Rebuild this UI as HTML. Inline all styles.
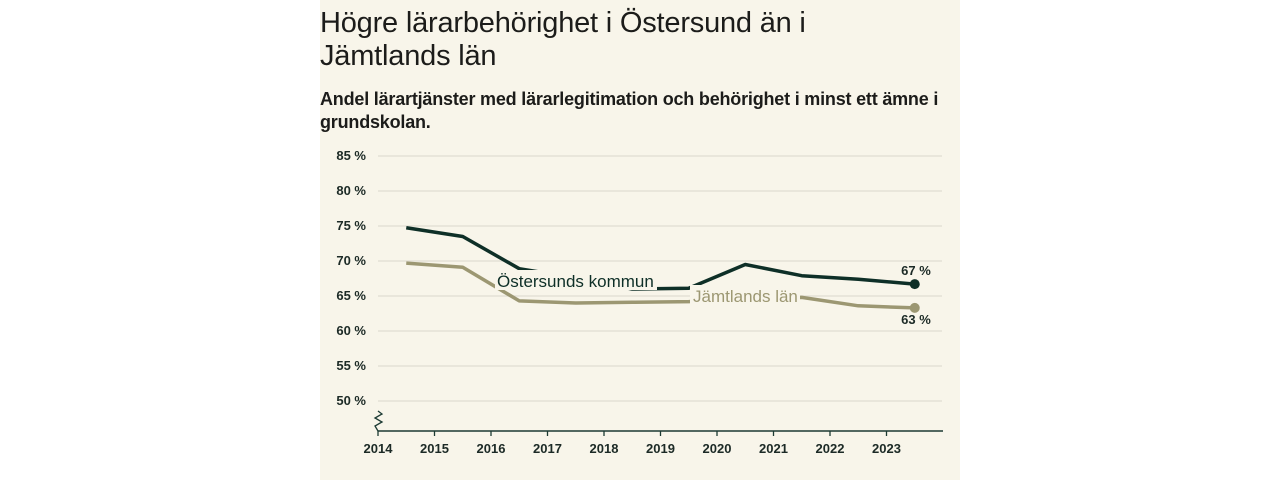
<!DOCTYPE html>
<html><head><meta charset="utf-8">
<style>
body{margin:0;width:1280px;height:480px;background:#fff;font-family:"Liberation Sans",sans-serif;}
#panel{position:absolute;left:320px;top:0;width:640px;height:480px;background:#f8f5ea;}
h1{position:absolute;left:320px;top:7px;margin:0;font-size:29px;line-height:33px;font-weight:normal;color:#1c1c1a;width:640px;letter-spacing:-0.2px;white-space:nowrap}
h2{position:absolute;left:320px;top:88px;margin:0;font-size:18px;line-height:23px;font-weight:bold;color:#1c1c1a;width:640px;white-space:nowrap;letter-spacing:-0.2px}
svg{position:absolute;left:0;top:0}
</style></head><body>
<div id="panel"></div>
<h1>Högre lärarbehörighet i Östersund än i<br>Jämtlands län</h1>
<h2>Andel lärartjänster med lärarlegitimation och behörighet i minst ett ämne i<br>grundskolan.</h2>
<svg id="chart" width="1280" height="480"></svg>
<script>
const years=[2014,2015,2016,2017,2018,2019,2020,2021,2022,2023];
const yTicks=[50,55,60,65,70,75,80,85];
const ostersund=[74.75,73.5,68.9,67.6,66.0,66.1,69.5,67.9,67.4,66.7];
const jamtland=[69.7,69.1,64.3,64.0,64.1,64.2,64.5,64.8,63.6,63.3];
const ns="http://www.w3.org/2000/svg",svg=document.getElementById('chart');
const X=y=>378+56.5*(y-2014);
const Y=v=>156+(85-v)*7;
function el(t,a,txt){const e=document.createElementNS(ns,t);for(const k in a)e.setAttribute(k,a[k]);if(txt!==undefined)e.textContent=txt;svg.appendChild(e);return e;}
yTicks.forEach(v=>{
 const g=el('line',{x1:378,x2:942,y1:Y(v),y2:Y(v),stroke:'#e4e1d6','stroke-width':1.5});
 
 
 const t=el('text',{x:366,y:Y(v)+4,'text-anchor':'end','font-size':13,fill:'#1c2a26','font-weight':'bold'},v+' %');
 
 
});
const ax=el('line',{x1:378,x2:943,y1:431,y2:431,stroke:'#1c3a33','stroke-width':1.5});


const br=el('path',{d:'M378,411 L382,414 L375,418 L382,422 L375,426 L378,431',fill:'none',stroke:'#1c3a33','stroke-width':1.3});


years.forEach(y=>{
 const tk=el('line',{x1:X(y),x2:X(y),y1:431,y2:436,stroke:'#1c3a33','stroke-width':1.3});
 
 
 const t=el('text',{x:X(y),y:453,'text-anchor':'middle','font-size':13,fill:'#1c2a26','font-weight':'bold'},y);
 
 
});
function series(vals,col,name){
 const pts=vals.map((v,i)=>X(years[i]+0.5)+','+Y(v)).join(' ');
 const p=el('polyline',{points:pts,fill:'none',stroke:col,'stroke-width':3.5,'stroke-linejoin':'round'});
 
 
 const n=vals.length-1;
 const c=el('circle',{cx:X(years[n]+0.5),cy:Y(vals[n]),r:5,fill:col});
 
 
}
series(jamtland,'#9c9772','jamtland');
series(ostersund,'#0e2f27','ostersund');
const b1=el('rect',{x:495,y:270,width:162,height:20,fill:'#f8f5ea'});


const l1=el('text',{x:497,y:287,'font-size':17,fill:'#0e2f27'},'Östersunds kommun');


const b2=el('rect',{x:690,y:285,width:110,height:20,fill:'#f8f5ea'});


const l2=el('text',{x:693,y:302,'font-size':17,fill:'#9c9772'},'Jämtlands län');


const v1=el('text',{x:916,y:Y(ostersund[9])-9,'text-anchor':'middle','font-size':13,fill:'#1c2a26','font-weight':'bold'},Math.round(ostersund[9])+' %');


const v2=el('text',{x:916,y:Y(jamtland[9])+16,'text-anchor':'middle','font-size':13,fill:'#1c2a26','font-weight':'bold'},Math.round(jamtland[9])+' %');


</script>
</body></html>
